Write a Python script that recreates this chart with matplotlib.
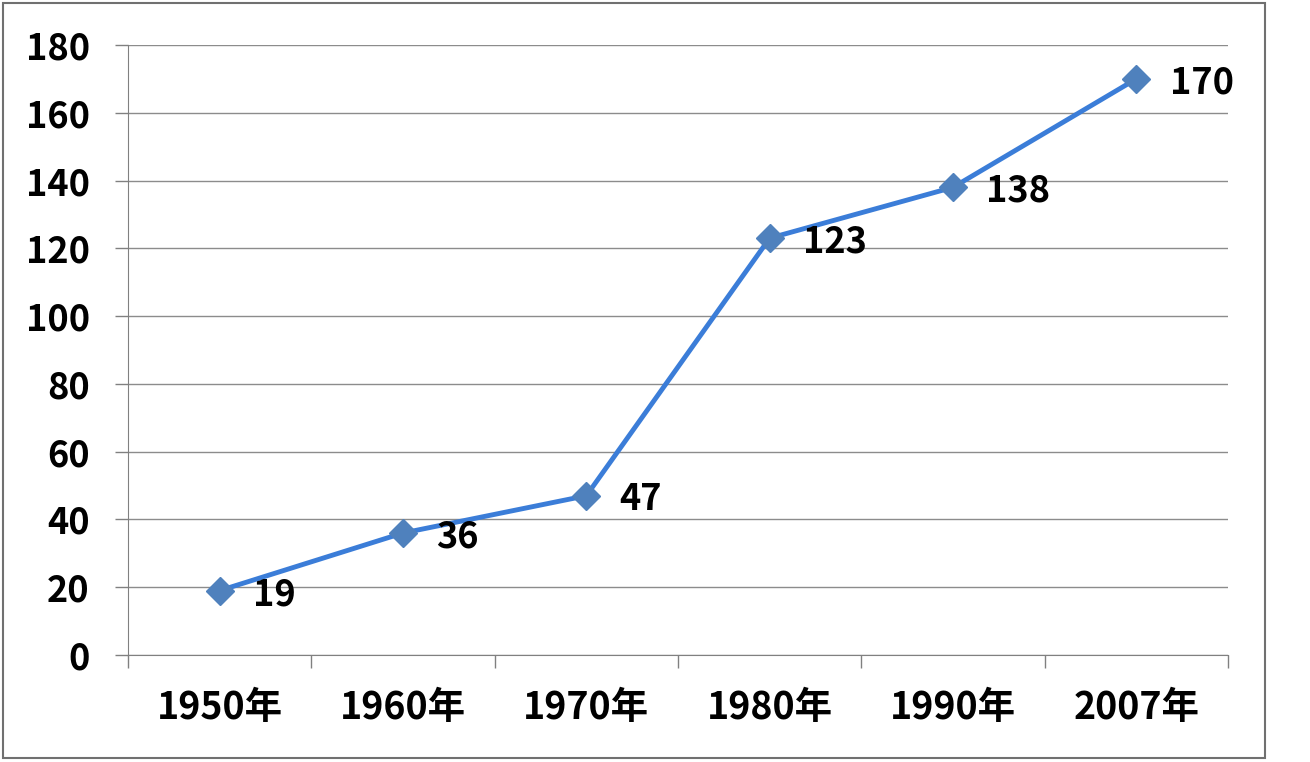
import numpy as np
import matplotlib.pyplot as plt
from matplotlib.patches import Rectangle

plt.rcParams['font.family'] = ['Noto Sans CJK SC', 'DejaVu Sans']

# 数据
years = ['1950年', '1960年', '1970年', '1980年', '1990年', '2007年']
values = [19, 36, 47, 123, 138, 170]
y_ticks = [0, 20, 40, 60, 80, 100, 120, 140, 160, 180]

fig = plt.figure(figsize=(13.1, 7.62), dpi=100)
ax = fig.add_axes([128 / 1310, 1 - 655 / 762, 1100 / 1310, 610 / 762])

x = np.arange(len(years))
ax.plot(x, values, color='#3B7DD8', linewidth=3.5, marker='D', markersize=14,
        markerfacecolor='#4F81BD', markeredgecolor='#4F81BD', zorder=3)

# 数据标签
for xi, v in zip(x, values):
    ax.annotate(str(v), (xi, v), xytext=(24, -3), textcoords='offset points',
                ha='left', va='center', fontsize=26, fontweight='bold', color='black')

ax.set_xlim(-0.5, len(years) - 0.5)
ax.set_ylim(0, 180)
ax.set_yticks(y_ticks)
ax.set_yticklabels([str(t) for t in y_ticks], fontsize=26, fontweight='bold')
ax.set_xticks(x)
ax.set_xticklabels(years, fontsize=27, fontweight='bold')
ax.set_xticks(np.arange(-0.5, len(years), 1), minor=True)
ax.tick_params(axis='x', which='major', length=0, pad=24)
ax.tick_params(axis='x', which='minor', length=9.5, width=1, color='#808080')
ax.tick_params(axis='y', length=9.5, width=1, color='#808080', pad=18)

ax.grid(axis='y', color='#8C8C8C', linewidth=1)
ax.set_axisbelow(True)
for s in ['top', 'right']:
    ax.spines[s].set_visible(False)
ax.spines['left'].set_color('#808080')
ax.spines['bottom'].set_color('#808080')

# 外框
fig.patches.append(Rectangle((3 / 1310, 4 / 762), 1262 / 1310, 755 / 762,
                             transform=fig.transFigure, fill=False,
                             edgecolor='#707070', linewidth=1.5))

fig.savefig('out.png', dpi=100)
